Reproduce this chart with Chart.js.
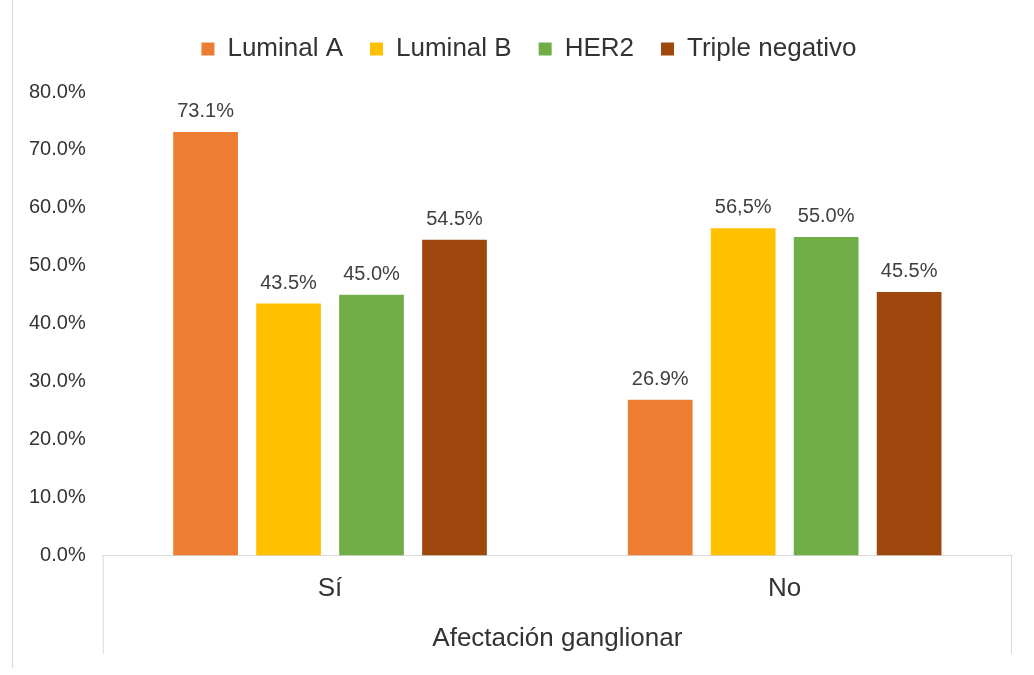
<!DOCTYPE html>
<html>
<head>
<meta charset="utf-8">
<script src="https://cdn.jsdelivr.net/npm/chart.js@4.4.0/dist/chart.umd.min.js"></script>
<style>
    body { margin: 0; background: #fff; }
    #wrap { position: relative; width: 1034px; height: 675px; }
    #marco { position: absolute; left: 12px; top: 0; height: 668px; border-left: 1px solid #d9d9d9; }
    canvas { position: absolute; left: 0; top: 0; }
</style>
</head>
<body>
<div id="wrap">
    <div id="marco"></div>
    <canvas id="grafico" width="1034" height="675"></canvas>
</div>
<script>
// Datos del gráfico
const categorias = ['Sí', 'No'];
const luminalA = [73.1, 26.9];
const luminalB = [43.5, 56.5];
const her2 = [45.0, 55.0];
const tripleNegativo = [54.5, 45.5];

// Etiquetas tal como aparecen sobre las barras
const etiquetasLuminalA = ['73.1%', '26.9%'];
const etiquetasLuminalB = ['43.5%', '56,5%'];
const etiquetasHer2 = ['45.0%', '55.0%'];
const etiquetasTriple = ['54.5%', '45.5%'];

const marcasY = ['0.0%', '10.0%', '20.0%', '30.0%', '40.0%', '50.0%', '60.0%', '70.0%', '80.0%'];

const fuente = '"Liberation Sans", Arial, sans-serif';
Chart.defaults.font.family = fuente;
Chart.defaults.color = '#333';

// Valores encima de cada barra
const etiquetasBarras = {
    id: 'etiquetasBarras',
    afterDatasetsDraw(chart) {
        const ctx = chart.ctx;
        ctx.save();
        ctx.font = '20px ' + fuente;
        ctx.fillStyle = '#404040';
        ctx.textAlign = 'center';
        ctx.textBaseline = 'alphabetic';
        chart.data.datasets.forEach((ds, i) => {
            chart.getDatasetMeta(i).data.forEach((bar, j) => {
                ctx.fillText(ds.etiquetas[j], bar.x, bar.y - 15);
            });
        });
        ctx.restore();
    }
};

// Líneas laterales del eje de categorías (estilo Excel)
const cajaEje = {
    id: 'cajaEje',
    afterDraw(chart) {
        const x = chart.scales.x;
        const ctx = chart.ctx;
        ctx.save();
        ctx.strokeStyle = '#d9d9d9';
        ctx.lineWidth = 1;
        ctx.beginPath();
        ctx.moveTo(x.left + 0.5, x.top);
        ctx.lineTo(x.left + 0.5, x.bottom);
        ctx.moveTo(x.right - 0.5, x.top);
        ctx.lineTo(x.right - 0.5, x.bottom);
        ctx.stroke();
        ctx.restore();
    }
};

// Más espacio debajo de la leyenda y leyenda algo desplazada a la derecha
const espacioLeyenda = {
    id: 'espacioLeyenda',
    beforeInit(chart) {
        const fitOriginal = chart.legend.fit;
        chart.legend.fit = function () {
            fitOriginal.bind(chart.legend)();
            this.height += 20;
        };
    },
    afterLayout(chart) {
        chart.legend.left += 17;
        chart.legend.right += 17;
    }
};

const ctx = document.getElementById('grafico').getContext('2d');
new Chart(ctx, {
    type: 'bar',
    data: {
        labels: categorias,
        datasets: [
            { label: 'Luminal A', data: luminalA, etiquetas: etiquetasLuminalA, backgroundColor: '#ED7D31' },
            { label: 'Luminal B', data: luminalB, etiquetas: etiquetasLuminalB, backgroundColor: '#FFC000' },
            { label: 'HER2', data: her2, etiquetas: etiquetasHer2, backgroundColor: '#70AD47' },
            { label: 'Triple negativo', data: tripleNegativo, etiquetas: etiquetasTriple, backgroundColor: '#9E480E' }
        ]
    },
    options: {
        responsive: false,
        animation: false,
        layout: { padding: { left: 12, right: 22, top: 9, bottom: 21 } },
        datasets: { bar: { barPercentage: 0.78, categoryPercentage: 0.73 } },
        plugins: {
            legend: {
                position: 'top',
                labels: { boxWidth: 13, boxHeight: 13, padding: 27, color: '#333', font: { size: 26 } }
            },
            tooltip: { enabled: false }
        },
        scales: {
            x: {
                grid: { drawOnChartArea: false, drawTicks: false },
                border: { color: '#d9d9d9' },
                ticks: { padding: 18, color: '#333', font: { size: 26 } },
                title: {
                    display: true,
                    text: 'Afectación ganglionar',
                    padding: { top: 0, bottom: 0 },
                    color: '#333',
                    font: { size: 26 }
                }
            },
            y: {
                min: 0,
                max: 80,
                grid: { display: false, drawTicks: false },
                border: { display: false },
                ticks: {
                    stepSize: 10,
                    padding: 17,
                    color: '#333',
                    font: { size: 20 },
                    callback: (v, i) => marcasY[i]
                }
            }
        }
    },
    plugins: [etiquetasBarras, cajaEje, espacioLeyenda]
});
</script>
</body>
</html>
